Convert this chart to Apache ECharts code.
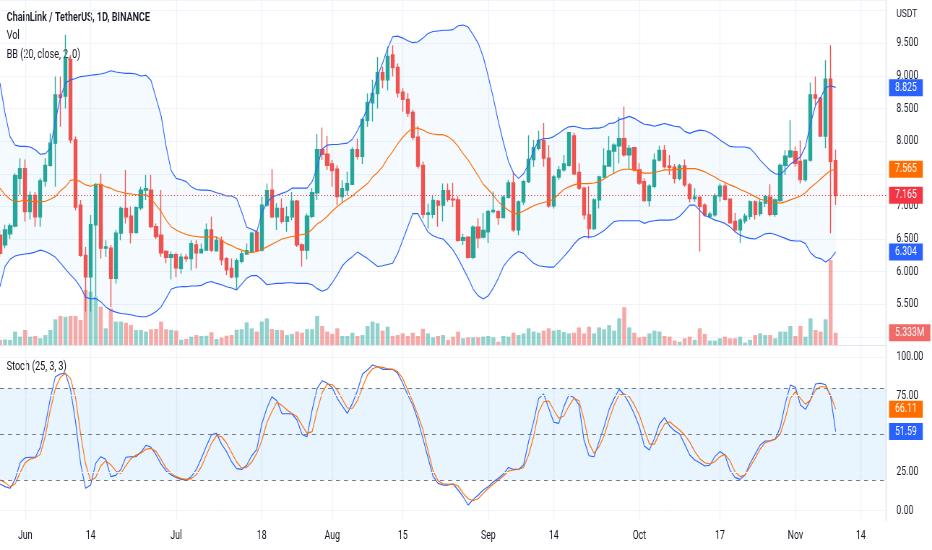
<!DOCTYPE html>
<html>
<head>
<meta charset="utf-8">
<script src="https://cdn.jsdelivr.net/npm/echarts@6/dist/echarts.min.js"></script>
<style>
html,body{margin:0;padding:0;background:#ffffff;overflow:hidden;}
#wrap{width:932px;height:550px;overflow:hidden;position:relative;}
#chart{width:1290px;height:550px;transform:scaleX(0.7224806);transform-origin:0 0;}
</style>
</head>
<body>
<div id="wrap"><div id="chart"></div></div>
<script>
// ---------- data (LINK/USDT daily, 2022-05-27 .. 2022-11-09) ----------
const startDate = [2022, 4, 27];   // 27 May 2022 (month is 0-based)
const dayCount = 177;              // axis runs to 19 Nov 2022

const open = [
6.56,6.41,6.58,6.70,7.43,7.58,6.92,7.17,6.84,7.39,
7.63,7.97,8.71,8.69,9.25,8.02,7.02,6.25,5.92,6.72,
7.33,6.36,6.36,5.90,6.59,6.97,6.85,6.60,6.98,7.25,
7.25,6.69,6.56,6.31,6.22,6.26,6.05,6.22,6.20,6.41,
6.29,6.33,6.64,6.32,6.48,6.20,6.05,5.92,6.16,6.27,
6.31,6.60,6.33,7.02,7.25,6.84,6.97,6.77,6.84,7.08,
6.41,6.33,6.85,7.21,7.87,7.80,7.65,7.57,7.15,7.25,
7.34,7.87,7.77,8.32,8.59,8.73,9.05,8.94,9.32,9.13,
8.75,8.64,8.44,8.06,7.63,6.88,6.88,7.08,7.02,7.24,
7.11,7.10,6.48,6.53,6.22,6.68,6.53,6.61,6.92,6.92,
6.83,7.14,7.36,6.64,7.07,7.38,7.72,7.89,8.01,7.74,
7.01,7.45,7.56,7.63,8.08,7.52,7.28,6.87,6.66,7.10,
7.45,7.62,7.85,7.93,8.04,7.79,7.90,7.56,7.38,7.09,
7.31,7.71,7.86,7.62,7.60,7.43,7.62,7.33,7.12,7.14,
7.02,6.85,6.87,7.16,7.31,7.11,6.77,6.64,6.78,6.85,
7.07,6.89,7.05,7.14,6.88,7.09,7.63,7.76,7.84,7.69,
7.41,7.71,8.71,8.66,8.08,8.95,7.70];
const high = [
6.64,6.72,6.74,7.51,7.74,7.72,7.23,7.22,7.43,7.74,
8.12,8.99,8.99,9.63,9.32,8.07,7.10,6.38,6.87,7.36,
7.50,6.48,6.41,6.64,7.00,7.56,7.00,7.00,7.30,7.48,
7.48,6.74,7.25,6.33,6.31,6.29,6.28,6.27,6.48,6.48,
6.43,6.74,6.84,6.54,6.54,6.22,6.20,6.20,6.32,6.43,
6.61,6.64,7.15,7.35,7.57,7.05,7.12,7.00,7.22,7.10,
6.43,6.89,7.28,8.11,8.21,8.08,7.71,7.63,7.40,7.53,
7.91,8.04,8.36,8.73,8.94,9.29,9.14,9.45,9.47,9.19,
8.81,8.74,8.48,8.23,7.69,7.04,7.17,7.10,7.35,7.35,
7.36,7.16,6.58,6.53,6.71,6.82,6.90,6.95,7.23,6.94,
7.17,7.41,7.52,7.09,7.40,8.09,8.02,8.16,8.28,7.94,
7.48,7.62,7.79,8.14,8.13,7.66,7.30,7.31,7.12,7.47,
7.89,8.08,7.97,8.37,8.53,7.94,7.91,7.66,7.43,7.34,
7.81,7.93,7.94,7.79,7.65,7.65,7.72,7.36,7.28,7.15,
7.05,6.92,7.20,7.35,7.36,7.12,6.90,6.82,6.89,7.09,
7.09,7.12,7.17,7.34,7.12,7.66,7.86,8.32,7.92,8.01,
7.72,8.90,8.99,8.68,9.24,9.47,7.87];
const low = [
6.23,6.36,6.50,6.68,7.18,6.77,6.80,6.69,6.69,7.30,
7.61,7.30,8.22,8.50,7.97,6.94,6.23,5.39,5.39,5.62,
6.20,6.23,5.46,5.82,6.48,6.74,6.43,6.59,6.94,7.10,
6.67,6.50,6.23,6.13,5.88,5.92,5.97,6.15,6.02,6.05,
6.28,6.32,6.30,6.32,6.10,5.95,5.90,5.72,6.13,6.26,
6.30,6.30,6.31,7.00,6.82,6.64,6.74,6.61,6.79,6.38,
6.08,6.19,6.82,7.10,7.71,7.56,7.30,7.02,7.07,7.17,
7.33,7.72,7.65,8.22,8.30,8.50,8.81,8.78,8.99,8.67,
8.45,8.37,8.02,7.58,6.82,6.66,6.82,6.69,6.77,7.07,
6.99,6.46,6.41,6.20,6.19,6.36,6.51,6.44,6.89,6.72,
6.82,7.12,6.61,6.56,7.02,7.36,7.61,7.86,7.61,6.98,
6.97,7.41,7.53,7.61,7.48,7.25,6.80,6.51,6.64,6.97,
7.43,7.61,7.51,7.66,7.76,7.57,7.53,7.33,7.07,7.00,
7.28,7.69,7.58,7.48,7.35,7.40,7.30,7.06,7.07,6.31,
6.84,6.82,6.84,7.07,7.09,6.74,6.61,6.44,6.74,6.80,
6.80,6.85,6.99,6.85,6.84,7.07,7.48,7.74,7.61,7.35,
7.38,7.69,8.55,8.07,7.89,6.59,7.02];
const close = [
6.28,6.64,6.70,7.47,7.58,6.92,7.17,6.84,7.39,7.63,
7.97,8.71,8.67,9.27,8.02,6.99,6.25,5.92,6.72,7.33,
6.36,6.38,5.90,6.59,6.97,6.84,6.60,6.98,7.25,7.27,
6.69,6.54,6.29,6.22,6.26,6.06,6.22,6.20,6.43,6.29,
6.34,6.64,6.33,6.48,6.18,6.03,5.92,6.17,6.27,6.32,
6.59,6.32,7.02,7.24,6.84,6.97,6.77,6.84,7.08,6.41,
6.33,6.85,7.21,7.87,7.80,7.63,7.55,7.15,7.27,7.35,
7.87,7.77,8.33,8.59,8.73,9.05,8.94,9.30,9.13,8.74,
8.64,8.43,8.06,7.62,6.88,6.90,7.09,7.02,7.24,7.11,
7.10,6.48,6.52,6.22,6.68,6.52,6.63,6.92,6.94,6.83,
7.14,7.36,6.64,7.07,7.38,7.72,7.90,8.01,7.74,7.01,
7.45,7.56,7.65,8.13,7.50,7.28,6.87,6.66,7.10,7.45,
7.62,7.85,7.94,8.04,7.79,7.89,7.56,7.36,7.09,7.31,
7.71,7.86,7.61,7.60,7.43,7.62,7.33,7.12,7.14,7.00,
6.87,6.88,7.16,7.31,7.11,6.75,6.64,6.79,6.85,7.07,
6.88,7.06,7.15,6.88,7.10,7.63,7.77,7.85,7.66,7.41,
7.71,8.71,8.66,8.08,8.95,7.69,7.165];
// volume in millions of LINK
const volume = [
2.2,2.4,2.2,5.8,3.6,6.5,3.6,3.9,2.9,4.3,
6.5,11.1,12.5,12.2,12.5,12.5,10.8,23.8,23.0,20.9,
16.6,7.2,15.8,10.1,10.1,9.6,8.6,6.5,6.5,5.8,
6.8,6.9,10.1,6.8,6.5,6.2,2.3,2.6,3.6,4.3,
3.9,4.0,5.5,2.6,3.2,4.0,4.3,6.6,6.8,9.8,
7.2,5.8,10.1,11.5,6.9,6.5,6.4,4.3,4.8,5.8,
5.3,6.8,6.8,12.5,8.2,5.8,4.8,7.2,3.9,3.9,
5.3,3.9,4.3,8.2,10.1,9.4,6.2,7.9,3.9,4.3,
5.0,3.9,5.3,3.9,7.0,5.0,3.3,3.9,4.3,2.2,
3.6,5.8,2.9,3.3,3.3,3.3,3.6,3.9,3.3,1.4,
3.9,3.6,5.3,4.3,5.0,7.2,5.8,5.3,6.2,7.2,
6.2,6.5,5.6,5.0,5.3,7.6,5.0,7.9,5.0,7.6,
6.8,8.6,6.2,11.5,16.3,7.6,5.3,3.3,3.6,5.0,
6.2,5.8,3.9,3.6,1.9,1.4,2.9,3.6,2.2,7.2,
4.8,1.9,1.9,2.9,3.6,2.9,2.9,3.6,1.0,2.2,
4.3,5.0,4.3,4.3,2.9,5.8,5.8,8.2,3.9,8.2,
3.6,11.5,6.5,5.8,11.1,36.7,5.333];
const bbUpper = [
8.89,8.43,8.07,7.94,7.92,7.92,7.91,7.87,7.80,7.81,
7.89,8.32,8.67,8.89,8.94,8.96,8.99,9.00,9.01,9.02,
9.03,9.05,9.08,9.06,9.05,9.04,9.04,9.03,9.00,9.01,
8.93,8.66,8.39,7.92,7.55,7.43,7.41,7.38,7.30,7.26,
7.25,7.25,7.24,7.21,7.19,7.16,7.16,7.12,6.92,6.68,
6.65,6.61,6.89,7.06,7.14,7.17,7.20,7.23,7.28,7.28,
7.28,7.28,7.38,7.60,7.88,7.94,7.95,7.95,7.96,7.97,
8.03,8.16,8.32,8.52,8.73,9.00,9.20,9.42,9.60,9.61,
9.58,9.54,9.51,9.52,9.58,9.65,9.68,9.69,9.70,9.70,
9.71,9.77,9.78,9.75,9.63,9.50,9.29,8.99,8.66,8.30,
7.98,7.69,7.51,7.43,7.50,7.65,7.86,8.01,8.04,8.04,
8.07,8.12,8.18,8.22,8.23,8.21,8.19,8.19,8.20,8.20,
8.22,8.27,8.28,8.33,8.35,8.38,8.35,8.30,8.26,8.25,
8.23,8.25,8.27,8.25,8.23,8.22,8.15,8.12,8.15,8.17,
8.16,8.13,8.08,8.02,7.97,7.92,7.91,7.91,7.91,7.89,
7.81,7.71,7.63,7.55,7.50,7.49,7.56,7.65,7.70,7.76,
7.92,8.27,8.55,8.67,8.82,8.85,8.825];
const bbBasis = [
7.28,7.18,7.11,7.07,7.08,7.10,7.08,7.07,7.07,7.08,
7.11,7.15,7.24,7.30,7.40,7.41,7.38,7.33,7.31,7.34,
7.34,7.30,7.28,7.24,7.22,7.20,7.19,7.18,7.18,7.18,
7.12,7.02,6.92,6.79,6.69,6.64,6.60,6.57,6.55,6.54,
6.53,6.53,6.54,6.53,6.48,6.43,6.40,6.36,6.33,6.30,
6.29,6.31,6.34,6.38,6.42,6.46,6.50,6.52,6.54,6.55,
6.57,6.58,6.65,6.73,6.78,6.85,6.93,7.00,7.06,7.11,
7.16,7.23,7.29,7.35,7.45,7.52,7.61,7.74,7.84,7.96,
8.06,8.14,8.20,8.20,8.17,8.13,8.11,8.10,8.10,8.07,
8.01,7.92,7.81,7.71,7.59,7.47,7.34,7.26,7.17,7.07,
7.00,6.94,6.89,6.89,6.93,6.97,7.01,7.04,7.06,7.08,
7.11,7.19,7.26,7.30,7.33,7.35,7.35,7.35,7.36,7.38,
7.42,7.47,7.51,7.55,7.57,7.57,7.56,7.53,7.51,7.51,
7.52,7.54,7.56,7.56,7.56,7.58,7.58,7.58,7.58,7.56,
7.53,7.49,7.45,7.40,7.37,7.33,7.30,7.26,7.23,7.19,
7.15,7.11,7.09,7.08,7.06,7.05,7.07,7.10,7.13,7.16,
7.21,7.29,7.35,7.42,7.49,7.55,7.565];
const bbLower = [
5.77,6.08,6.19,6.24,6.26,6.27,6.28,6.30,6.33,6.31,
6.27,6.22,6.13,6.04,5.95,5.87,5.76,5.61,5.58,5.59,
5.54,5.46,5.41,5.38,5.36,5.35,5.34,5.32,5.31,5.31,
5.34,5.39,5.46,5.59,5.73,5.76,5.77,5.77,5.78,5.78,
5.79,5.83,5.85,5.82,5.80,5.77,5.75,5.72,5.81,5.90,
5.94,5.94,5.88,5.80,5.81,5.82,5.82,5.83,5.83,5.82,
5.82,5.82,5.80,5.74,5.70,5.73,5.83,5.95,6.09,6.17,
6.23,6.30,6.25,6.20,6.14,6.08,6.09,6.11,6.13,6.28,
6.48,6.69,6.89,6.89,6.75,6.61,6.55,6.52,6.50,6.42,
6.33,6.20,6.05,5.90,5.73,5.63,5.58,5.63,5.75,5.90,
6.08,6.18,6.26,6.31,6.28,6.20,6.13,6.09,6.08,6.07,
6.07,6.15,6.23,6.32,6.42,6.50,6.54,6.53,6.54,6.58,
6.63,6.70,6.77,6.78,6.78,6.78,6.78,6.78,6.74,6.77,
6.78,6.79,6.79,6.79,6.80,6.85,6.93,7.02,7.02,6.94,
6.86,6.83,6.79,6.77,6.74,6.69,6.61,6.56,6.53,6.51,
6.50,6.54,6.58,6.59,6.57,6.54,6.51,6.48,6.47,6.47,
6.43,6.29,6.22,6.20,6.15,6.20,6.304];
const stochK = [
17.4,15.7,14.6,20.4,31.3,34.5,34.8,34.8,41.3,55.8,
73.2,87.3,89.1,89.5,79.1,58.0,30.9,14.6,16.7,30.9,
35.2,33.5,22.2,23.0,26.9,34.8,35.2,35.2,38.2,42.6,
41.3,36.3,30.4,25.9,23.3,21.7,20.4,20.0,22.2,26.9,
34.1,42.1,49.5,50.4,43.4,38.5,31.9,27.4,26.9,29.6,
35.8,40.0,56.5,66.7,74.3,71.7,63.2,63.2,63.0,59.1,
49.7,48.2,65.6,79.7,84.7,83.0,80.1,73.2,68.2,63.4,
69.9,78.2,89.1,91.7,94.9,93.8,92.1,92.1,92.1,89.5,
83.0,75.4,68.9,59.1,47.1,34.8,22.6,17.8,16.7,16.7,
17.4,13.5,9.1,3.7,7.4,10.2,13.5,15.7,18.9,21.1,
23.9,28.2,26.9,26.9,29.8,45.0,58.0,73.2,76.0,66.7,
57.6,56.9,67.8,75.4,73.8,68.9,46.1,35.8,35.2,45.0,
54.7,66.0,73.2,79.1,75.4,69.9,63.0,54.7,42.1,39.5,
47.1,56.5,60.6,55.2,52.1,50.0,43.4,36.3,33.0,31.3,
29.1,29.6,35.2,38.5,36.3,26.5,21.7,20.4,23.3,30.9,
36.9,42.8,45.4,45.6,46.7,54.3,69.9,81.9,80.4,68.9,
66.0,72.1,82.5,83.0,82.1,74.3,51.59];
const stochD = [
20.0,18.3,15.7,17.4,24.8,31.3,33.7,34.5,36.7,48.7,
65.6,79.7,86.9,89.5,86.2,73.9,50.4,30.4,19.6,21.7,
29.1,32.6,30.0,25.9,24.3,29.3,33.9,36.3,37.6,40.0,
40.6,38.7,33.5,27.8,24.3,22.2,20.9,20.4,20.9,23.5,
28.7,36.3,43.9,48.9,48.2,44.1,37.8,31.9,27.8,28.2,
31.7,37.4,45.6,57.3,64.5,70.8,68.6,65.6,63.4,61.3,
55.6,50.4,51.5,65.2,76.9,82.5,82.1,78.6,72.5,66.9,
66.7,71.7,80.4,88.4,92.5,93.8,93.4,92.5,92.1,90.6,
86.2,78.6,71.0,62.3,53.0,39.5,26.1,19.6,17.6,17.2,
17.4,16.1,11.3,7.8,6.5,8.0,11.3,14.6,17.4,20.0,
22.6,25.9,26.5,27.0,28.2,36.3,48.2,64.5,71.0,71.5,
65.6,60.2,61.7,68.2,73.2,71.7,59.5,43.9,37.4,41.7,
48.7,59.5,68.9,75.4,76.0,74.3,68.9,62.3,52.6,43.4,
43.4,50.4,56.5,58.0,55.2,52.6,49.3,44.8,38.7,33.9,
31.3,30.4,31.9,35.2,36.7,32.6,25.4,22.2,23.3,28.7,
34.1,40.2,44.3,45.4,46.5,50.0,60.2,73.2,77.5,73.2,
69.3,72.1,78.6,80.8,80.8,75.4,66.11];

const xTickDates  = ['2022-06-01','2022-06-14','2022-07-01','2022-07-18','2022-08-01','2022-08-15',
                     '2022-09-01','2022-09-14','2022-10-01','2022-10-17','2022-11-01','2022-11-14'];
const xTickLabels = ['Jun','14','Jul','18','Aug','15','Sep','14','Oct','17','Nov','14'];
const priceHiddenTicks = [10, 7.5, 5];
const stochTicks = [100, 75, 25, 0];
const stochLevels = [80, 50, 20];

// ---------- build ----------
// The canvas is drawn 1290px wide and squeezed horizontally to 932px (narrow text like the reference).
const SX = 932 / 1290;
const px = (v) => v / SX;   // final-pixel horizontal size -> canvas units

const categories = [];
for (let k = 0; k < dayCount; k++) {
  const d = new Date(Date.UTC(startDate[0], startDate[1], startDate[2] + k));
  categories.push(d.toISOString().slice(0, 10));
}
const last = close.length - 1;
const FONT = "Roboto, 'Liberation Sans', sans-serif";
const UP = '#26a69a', DOWN = '#ef5350', BLUE = '#2962ff', ORANGE = '#ff6d00', TXT = '#131722';
const GRID_LINE = '#f0f3fa';
const tickSet = new Set(xTickDates);
const showTick = (idx, val) => tickSet.has(val);

function tag(v, text, bg) {
  return {
    yAxis: v,
    lineStyle: { color: 'rgba(0,0,0,0)', width: 1 },
    label: { show: true, position: 'end', distance: px(3), formatter: text, color: '#ffffff',
             backgroundColor: bg, padding: [3, px(6), 2, px(6)], fontSize: 12, fontFamily: FONT, lineHeight: 12 }
  };
}

const candleData = open.map((o, k) => [o, close[k], low[k], high[k]]);
const volData = volume.map((v, k) => ({
  value: v,
  itemStyle: { color: close[k] >= open[k] ? 'rgba(38,166,154,0.5)' : 'rgba(239,83,80,0.5)' }
}));
const bbWidth = bbUpper.map((u, k) => +(u - bbLower[k]).toFixed(4));

const lineBase = { type: 'line', symbol: 'none', showSymbol: false, silent: true, animation: false };
const GW = px(886);

const option = {
  animation: false,
  backgroundColor: '#ffffff',
  textStyle: { fontFamily: FONT },
  grid: [
    { left: 0, top: 0, width: GW, height: 345, outerBoundsMode: 'none' },
    { left: 0, top: 0, width: GW, height: 345, outerBoundsMode: 'none' },
    { left: 0, top: 346, width: GW, height: 175, outerBoundsMode: 'none' }
  ],
  xAxis: [
    { type: 'category', gridIndex: 0, data: categories, boundaryGap: false,
      axisLine: { show: true, lineStyle: { color: '#e0e3eb' } }, axisTick: { show: false },
      axisLabel: { show: false },
      splitLine: { show: true, interval: showTick, lineStyle: { color: GRID_LINE, width: px(1) } } },
    { type: 'category', gridIndex: 1, data: categories, boundaryGap: false, show: false },
    { type: 'category', gridIndex: 2, data: categories, boundaryGap: false,
      axisLine: { show: true, lineStyle: { color: '#e0e3eb' } }, axisTick: { show: false },
      axisLabel: { interval: showTick, color: TXT, fontSize: 12, margin: 9,
                   formatter: (val) => { const j = xTickDates.indexOf(val); return j >= 0 ? xTickLabels[j] : ''; } },
      splitLine: { show: true, interval: showTick, lineStyle: { color: GRID_LINE, width: px(1) } } }
  ],
  yAxis: [
    { type: 'value', gridIndex: 0, position: 'right', min: 4.876, max: 10.164, splitNumber: 10,
      axisLine: { show: true, lineStyle: { color: '#e0e3eb', width: px(1) } }, axisTick: { show: false },
      axisLabel: { color: TXT, fontSize: 12, margin: px(10.5), showMinLabel: false, showMaxLabel: false,
                   formatter: (v) => priceHiddenTicks.some(h => Math.abs(h - v) < 1e-6) ? '' : v.toFixed(3) },
      splitLine: { show: true, lineStyle: { color: GRID_LINE } } },
    { type: 'value', gridIndex: 1, min: 0, max: 149, show: false },
    { type: 'value', gridIndex: 2, position: 'right', min: -6.7, max: 107.3,
      axisLine: { show: true, lineStyle: { color: '#e0e3eb', width: px(1) } }, axisTick: { show: false },
      axisLabel: { show: false }, splitLine: { show: false } }
  ],
  series: [
    Object.assign({}, lineBase, { name: 'bbBase', xAxisIndex: 0, yAxisIndex: 0, data: bbLower, stack: 'bb',
      lineStyle: { opacity: 0 }, z: 1 }),
    Object.assign({}, lineBase, { name: 'bbFill', xAxisIndex: 0, yAxisIndex: 0, data: bbWidth, stack: 'bb',
      lineStyle: { opacity: 0 }, areaStyle: { color: 'rgba(33,150,243,0.06)' }, z: 1 }),
    { name: 'Volume', type: 'bar', xAxisIndex: 1, yAxisIndex: 1, data: volData, barWidth: px(4),
      silent: true, animation: false,
      markLine: { symbol: ['none', 'none'], silent: true, animation: false,
        data: [ tag(volume[last], volume[last].toFixed(3) + 'M', '#f06a67') ] } },
    { name: 'LINKUSDT', type: 'candlestick', xAxisIndex: 0, yAxisIndex: 0, data: candleData, barWidth: px(3.4),
      silent: true, animation: false,
      itemStyle: { color: UP, color0: DOWN, borderColor: UP, borderColor0: DOWN, borderWidth: px(1) },
      markLine: { symbol: ['none', 'none'], silent: true, animation: false,
        data: [ Object.assign(tag(close[last], close[last].toFixed(3), '#f23645'),
                { lineStyle: { color: '#f23645', type: [px(1), px(2)], width: 1 } }) ] } },
    Object.assign({}, lineBase, { name: 'Upper', xAxisIndex: 0, yAxisIndex: 0, data: bbUpper,
      lineStyle: { color: BLUE, width: 1.1 }, z: 3,
      markLine: { symbol: ['none', 'none'], silent: true, animation: false,
        data: [ tag(bbUpper[last], bbUpper[last].toFixed(3), BLUE) ] } }),
    Object.assign({}, lineBase, { name: 'Lower', xAxisIndex: 0, yAxisIndex: 0, data: bbLower,
      lineStyle: { color: BLUE, width: 1.1 }, z: 3,
      markLine: { symbol: ['none', 'none'], silent: true, animation: false,
        data: [ tag(bbLower[last], bbLower[last].toFixed(3), BLUE) ] } }),
    Object.assign({}, lineBase, { name: 'Basis', xAxisIndex: 0, yAxisIndex: 0, data: bbBasis,
      lineStyle: { color: ORANGE, width: 1.1 }, z: 3,
      markLine: { symbol: ['none', 'none'], silent: true, animation: false,
        data: [ tag(bbBasis[last], bbBasis[last].toFixed(3), ORANGE) ] } }),
    Object.assign({}, lineBase, { name: '%K', xAxisIndex: 2, yAxisIndex: 2, data: stochK,
      lineStyle: { color: BLUE, width: 1.1 }, z: 3,
      markArea: { silent: true, itemStyle: { color: 'rgba(33,150,243,0.1)' },
        data: [[ { yAxis: 20 }, { yAxis: 80 } ]] },
      markLine: { symbol: ['none', 'none'], silent: true, animation: false,
        data: stochLevels.map(v => ({ yAxis: v, label: { show: false },
                  lineStyle: { color: '#787b86', type: [px(4), px(4)], width: 1 } }))
          .concat(stochTicks.map(v => ({ yAxis: v,
                  lineStyle: { color: GRID_LINE, type: 'solid', width: 1 },
                  label: { show: true, position: 'end', distance: px(10.5), formatter: v.toFixed(2),
                           color: TXT, fontSize: 12, fontFamily: FONT } })))
          .concat([ tag(stochK[last], stochK[last].toFixed(2), BLUE) ]) } }),
    Object.assign({}, lineBase, { name: '%D', xAxisIndex: 2, yAxisIndex: 2, data: stochD,
      lineStyle: { color: ORANGE, width: 1.1 }, z: 3,
      markLine: { symbol: ['none', 'none'], silent: true, animation: false,
        data: [ tag(stochD[last], stochD[last].toFixed(2), ORANGE) ] } })
  ],
  graphic: [
    { type: 'text', left: px(6.7), top: 11, silent: true,
      style: { text: 'ChainLink / TetherUS, 1D, BINANCE', fill: TXT, fontSize: 12.5, fontWeight: 600, fontFamily: FONT } },
    { type: 'text', left: px(6.7), top: 29, silent: true,
      style: { text: 'Vol', fill: TXT, fontSize: 12.5, fontFamily: FONT } },
    { type: 'text', left: px(6.7), top: 48, silent: true,
      style: { text: 'BB (20, close, 2, 0)', fill: TXT, fontSize: 12.5, fontFamily: FONT } },
    { type: 'text', left: px(6.7), top: 360, silent: true,
      style: { text: 'Stoch (25, 3, 3)', fill: TXT, fontSize: 12.5, fontFamily: FONT } },
    { type: 'text', left: px(896.5), top: 8, silent: true,
      style: { text: 'USDT', fill: TXT, fontSize: 11.5, fontFamily: FONT } }
  ]
};

const chart = echarts.init(document.getElementById('chart'), null, { renderer: 'canvas' });
chart.setOption(option);
</script>
</body>
</html>
